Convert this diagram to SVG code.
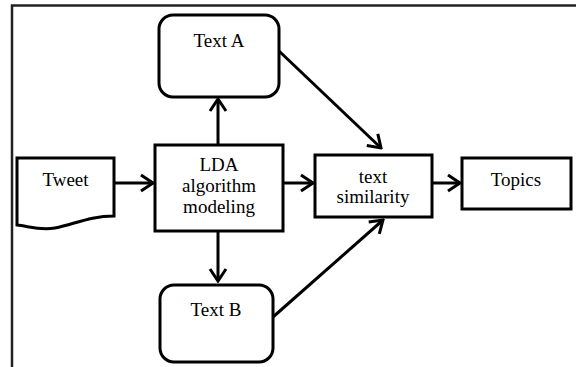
<svg xmlns="http://www.w3.org/2000/svg" width="576" height="367" viewBox="0 0 576 367">
<style>
.box{fill:#fff;stroke:#000;stroke-width:3}
.lbl{font-family:'Liberation Serif','Tinos','DejaVu Serif',serif;font-size:19px;fill:#000;text-anchor:middle}
.con{stroke:#000;stroke-width:3;fill:none;marker-end:url(#arr)}
</style>
<defs>
<marker id="arr" markerUnits="userSpaceOnUse" markerWidth="16" markerHeight="20" viewBox="-14 -10 16 20" refX="0" refY="0" orient="auto">
<path d="M-12,-8 L0,0 L-12,8" fill="none" stroke="#000" stroke-width="3"/>
</marker>
</defs>
<rect x="0" y="0" width="576" height="367" fill="#fff"/>
<path d="M12,367 V5.5 H576" fill="none" stroke="#222" stroke-width="2.5"/>
<g id="connectors">
<line class="con" x1="218" y1="145" x2="218" y2="99"/>
<line class="con" x1="114" y1="183" x2="153" y2="183"/>
<line class="con" x1="218" y1="231" x2="218" y2="281"/>
<line class="con" x1="283" y1="183" x2="313" y2="183"/>
<line class="con" x1="432" y1="183" x2="460" y2="183"/>
<line class="con" x1="279" y1="51" x2="381" y2="148"/>
<line class="con" x1="273" y1="317" x2="383" y2="220"/>
</g>
<g id="textA">
<rect class="box" x="159" y="15" width="120" height="82" rx="14"/>
<text class="lbl" x="219" y="47" font-family="Liberation Serif, serif">Text A</text>
</g>
<g id="tweet">
<path class="box" d="M17,158 H114 V216 C90,216 75,224 55,228 C40,231 28,226 17,225 Z"/>
<text class="lbl" x="65.5" y="186">Tweet</text>
</g>
<g id="lda">
<rect class="box" x="155" y="145" width="128" height="86"/>
<text class="lbl" x="219" y="171">LDA</text>
<text class="lbl" x="219" y="192">algorithm</text>
<text class="lbl" x="219" y="213">modeling</text>
</g>
<g id="textB">
<rect class="box" x="160" y="285" width="113" height="77" rx="14"/>
<text class="lbl" x="216" y="316">Text B</text>
</g>
<g id="similarity">
<rect class="box" x="315" y="155" width="117" height="62"/>
<text class="lbl" x="373" y="183">text</text>
<text class="lbl" x="373" y="203">similarity</text>
</g>
<g id="topics">
<rect class="box" x="462" y="158" width="109" height="51"/>
<text class="lbl" x="516" y="186">Topics</text>
</g>
</svg>
